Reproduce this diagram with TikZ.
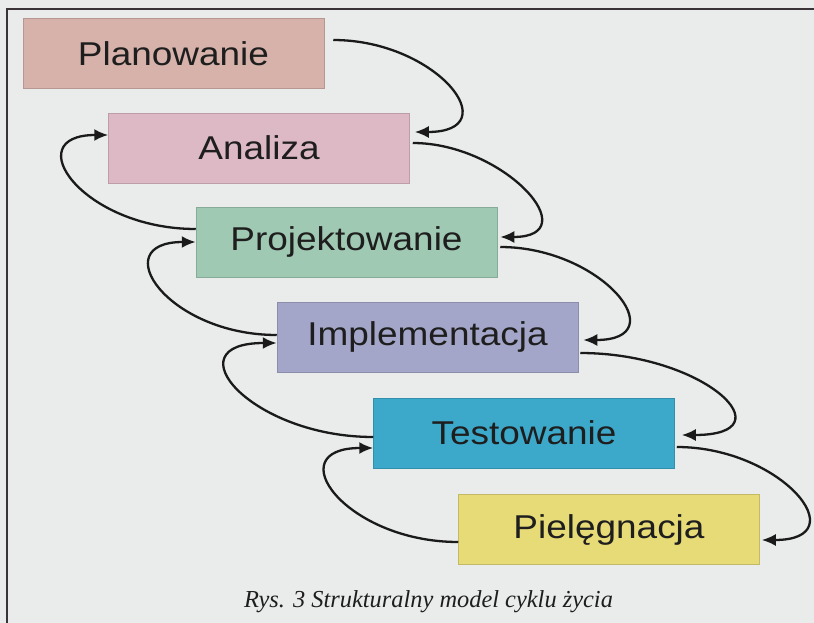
\documentclass[tikz,border=0pt]{standalone}
\usepackage{fontspec}
\usetikzlibrary{arrows.meta}
\newfontfamily\boxfont[FakeStretch=1.12]{Liberation Sans}
\newfontfamily\capfont{Liberation Serif}
\definecolor{bg}{HTML}{E9ECEA}
\definecolor{txt}{HTML}{1E1E1E}
\definecolor{ln}{HTML}{1A1A1A}
\definecolor{frm}{HTML}{3A3438}
\definecolor{cPlan}{HTML}{D6B2AB}
\definecolor{cAna}{HTML}{DDB9C6}
\definecolor{cProj}{HTML}{A0C9B4}
\definecolor{cImpl}{HTML}{A3A6C8}
\definecolor{cTest}{HTML}{3CA9CB}
\definecolor{cPiel}{HTML}{E7DB78}
\begin{document}
\begin{tikzpicture}[x=1pt,y=-1pt,
  stage/.style={minimum width=301pt,minimum height=70pt,inner sep=0pt,
    font=\boxfont\fontsize{33}{36}\selectfont,text=txt,
    draw=#1!85!black,line width=0.5pt,fill=#1},
  flow/.style={line width=2.3pt,draw=ln,-{Latex[length=14pt,width=12pt]}},
  frame/.style={line width=2pt,draw=frm}]
\fill[bg] (0,0) rectangle (814,623);
\useasboundingbox (0,0) rectangle (814,623);
\coordinate (tr) at (814,9);
\coordinate (tl) at (7,9);
\coordinate (bl) at (7,623);
\draw[frame] (tr) -- (tl) -- (bl);

\node[stage=cPlan] (plan) at (173.5,53.5) {Planowanie};
\node[stage=cAna]  (ana)  at (259,148)    {Analiza};
\node[stage=cProj] (proj) at (346.5,242)  {Projektowanie};
\node[stage=cImpl] (impl) at (427.5,337)  {Implementacja};
\node[stage=cTest] (test) at (524,433)    {Testowanie};
\node[stage=cPiel] (piel) at (609,529.5)  {Pielęgnacja};

% forward arrows (right side)
\draw[flow] ([xshift=9pt,yshift=13.5pt]plan.east) .. controls +(104,0) and +(94,0) .. ([xshift=5pt,yshift=16pt]ana.east);
\draw[flow] ([xshift=3pt,yshift=5pt]ana.east) .. controls +(92,0) and +(88,0) .. ([xshift=3pt,yshift=5pt]proj.east);
\draw[flow] ([xshift=3pt,yshift=-5pt]proj.east) .. controls +(102,0) and +(93,0) .. ([xshift=5pt,yshift=-3pt]impl.east);
\draw[flow] ([xshift=2pt,yshift=-16pt]impl.east) .. controls +(125,0) and +(108,0) .. ([xshift=7pt,yshift=-2pt]test.east);
\draw[flow] ([xshift=2pt,yshift=-14pt]test.east) .. controls +(105,0) and +(96,0) .. ([xshift=2pt,yshift=-10.5pt]piel.east);

% backward arrows (left side)
\draw[flow] ([yshift=13pt]proj.west) .. controls +(-114,0) and +(-91,0) .. ([yshift=13pt]ana.west);
\draw[flow] ([yshift=2pt]impl.west) .. controls +(-110,0) and +(-91,0) .. (proj.west);
\draw[flow] ([yshift=-4pt]test.west) .. controls +(-123,0) and +(-106,0) .. ([yshift=-6pt]impl.west);
\draw[flow] ([yshift=-12.5pt]piel.west) .. controls +(-113,0) and +(-96,0) .. ([yshift=-15pt]test.west);

\node[anchor=base,text=txt,font=\capfont\itshape\fontsize{24.4}{28}\selectfont] (cap) at (428.5,607) {Rys. 3 Strukturalny model cyklu życia};
\end{tikzpicture}
\end{document}
